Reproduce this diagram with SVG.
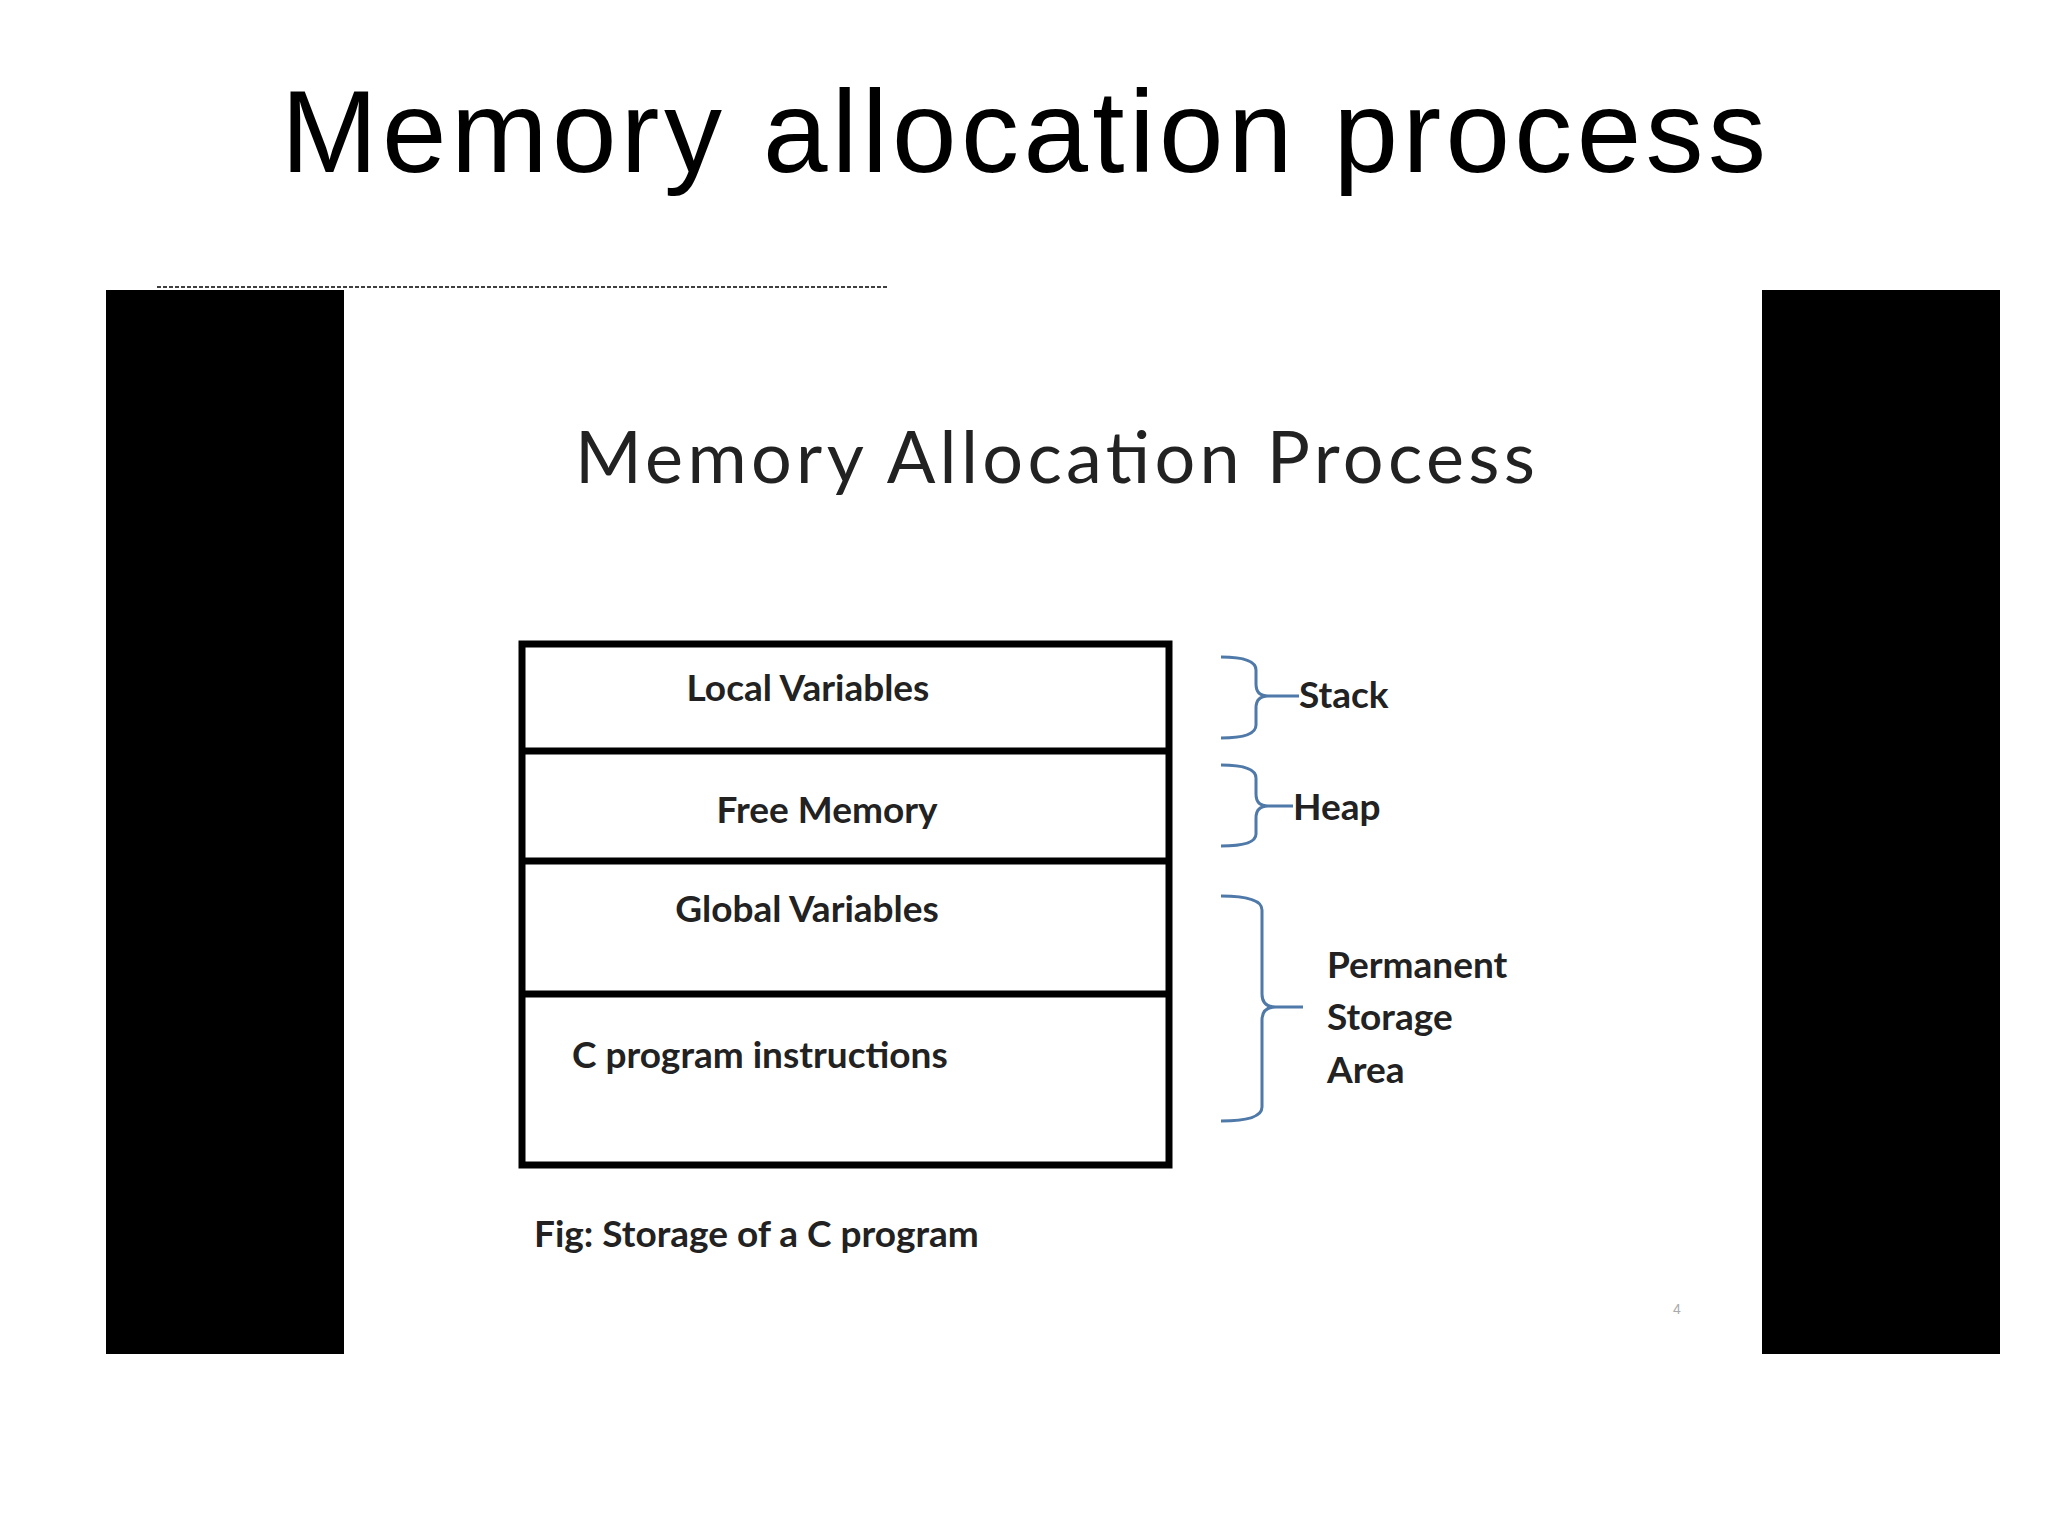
<svg xmlns="http://www.w3.org/2000/svg" width="2048" height="1536" viewBox="0 0 2048 1536">
<style>
.b{font-family:Lato,"Open Sans","Liberation Sans",sans-serif;font-weight:bold;font-size:37px;fill:#222}
.br{fill:none;stroke:#4f79a8;stroke-width:3}
.box{fill:none;stroke:#000;stroke-width:7}
</style>
<rect width="2048" height="1536" fill="#fff"/>
<text x="281" y="172" font-family="Liberation Sans,Arial,sans-serif" font-size="116" textLength="1485" fill="#000">Memory allocation process</text>
<rect x="106" y="290" width="238" height="1064" fill="#000"/>
<rect x="1762" y="290" width="238" height="1064" fill="#000"/>
<line x1="157" y1="287" x2="888" y2="287" stroke="#000" stroke-width="1.5" stroke-dasharray="4,2"/>
<text x="575" y="483" font-family="Lato,'Open Sans','Liberation Sans',sans-serif" font-size="72" textLength="960" fill="#222">Memory Allocation Process</text>
<g id="memory">
<rect class="box" x="522" y="644" width="647" height="521"/>
<line class="box" x1="522" y1="751" x2="1172" y2="751"/>
<line class="box" x1="522" y1="861" x2="1169" y2="861"/>
<line class="box" x1="522" y1="994" x2="1169" y2="994"/>
</g>
<g id="local"><text class="b" x="808" y="701" text-anchor="middle">Local Variables</text></g>
<g id="free"><text class="b" x="827" y="823" text-anchor="middle">Free Memory</text></g>
<g id="global"><text class="b" x="807" y="922" text-anchor="middle">Global Variables</text></g>
<g id="cprog"><text class="b" x="572" y="1068">C program instructions</text></g>
<g id="caption"><text class="b" x="534" y="1247">Fig: Storage of a C program</text></g>
<g id="connectors">
<path class="br" d="M1221,657 Q1256,657 1256,670 L1256,684 Q1256,696 1268,696 L1299,696 M1268,696 Q1256,696 1256,708 L1256,725 Q1256,738 1221,738"/>
<path class="br" d="M1221,765 Q1256,765 1256,778 L1256,794 Q1256,806 1268,806 L1293,806 M1268,806 Q1256,806 1256,818 L1256,834 Q1256,846 1221,846"/>
<path class="br" d="M1221,896 Q1262,896 1262,910 L1262,994 Q1262,1007 1276,1007 L1303,1007 M1276,1007 Q1262,1007 1262,1020 L1262,1107 Q1262,1121 1221,1121"/>
</g>
<g id="stack"><text class="b" x="1299" y="708">Stack</text></g>
<g id="heap"><text class="b" x="1293" y="820">Heap</text></g>
<g id="perm"><text class="b" x="1327" y="978">Permanent</text><text class="b" x="1327" y="1030">Storage</text><text class="b" x="1327" y="1083">Area</text></g>
<text x="1673" y="1314" font-family="Liberation Sans,sans-serif" font-size="14" fill="#aaa">4</text>
</svg>
